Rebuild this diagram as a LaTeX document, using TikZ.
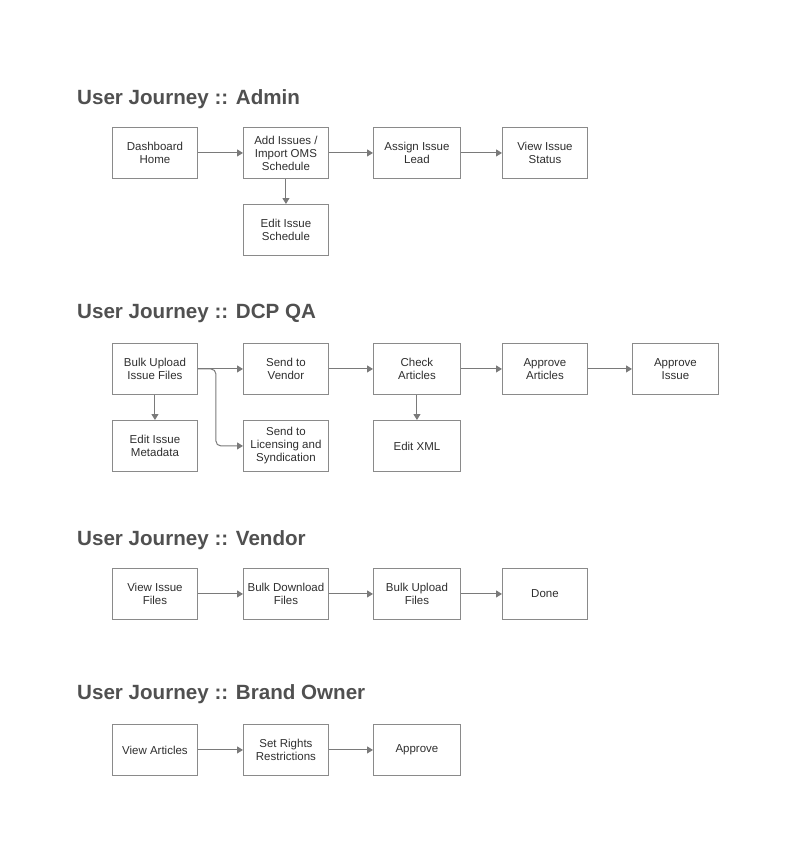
\documentclass[tikz,border=0pt]{standalone}
\usepackage{fontspec}
\setmainfont{Liberation Sans}
\usetikzlibrary{arrows.meta}
\definecolor{boxline}{HTML}{8A8A8A}
\definecolor{txt}{HTML}{2E2E2E}
\definecolor{arr}{HTML}{7A7A7A}
\definecolor{ttl}{HTML}{505050}
\tikzset{
  stepbox/.style={draw=boxline, line width=0.9pt, minimum width=85pt, minimum height=51pt,
    align=center, font=\fontsize{11.5}{13}\selectfont, text=txt, inner sep=0pt, anchor=north west},
  flow/.style={draw=arr, line width=1pt, -{Triangle[length=6pt,width=7pt]}},
  ttlstyle/.style={font=\fontsize{20.6}{24}\selectfont\bfseries, text=ttl, anchor=base west, inner sep=0pt}
}
\begin{document}
\begin{tikzpicture}[x=1pt,y=-1pt]
\useasboundingbox (0,0) rectangle (800,854);
% Admin
\node[ttlstyle] (t1) at (77,104) {User Journey :: Admin};
\node[stepbox] (a1) at (112,127) {Dashboard\\Home};
\node[stepbox] (a2) at (243,127) {Add Issues /\\Import OMS\\Schedule};
\node[stepbox, minimum width=87pt] (a3) at (373,127) {Assign Issue\\Lead};
\node[stepbox] (a4) at (502,127) {View Issue\\Status};
\node[stepbox] (a5) at (243,204) {Edit Issue\\Schedule};
\draw[flow] (a1) -- (a2);
\draw[flow] (a2) -- (a3);
\draw[flow] (a3) -- (a4);
\draw[flow] (a2) -- (a5);
% DCP QA
\node[ttlstyle] (t2) at (77,318) {User Journey :: DCP QA};
\node[stepbox] (d1) at (112,343) {Bulk Upload\\Issue Files};
\node[stepbox] (d2) at (243,343) {Send to\\Vendor};
\node[stepbox, minimum width=87pt] (d3) at (373,343) {Check\\Articles};
\node[stepbox] (d4) at (502,343) {Approve\\Articles};
\node[stepbox, minimum width=86pt] (d5) at (632,343) {Approve\\Issue};
\node[stepbox] (d6) at (112,420) {Edit Issue\\Metadata};
\node[stepbox] (d7) at (243,420) {Send to\\Licensing and\\Syndication};
\node[stepbox, minimum width=87pt] (d8) at (373,420) {Edit XML};
\draw[flow] (d1) -- (d2);
\draw[flow] (d2) -- (d3);
\draw[flow] (d3) -- (d4);
\draw[flow] (d4) -- (d5);
\draw[flow] (d1) -- (d6);
\draw[flow] (d3) -- (d8);
\draw[flow, rounded corners=5pt] (d1.east) -- ++(18,0) |- (d7.west);
% Vendor
\node[ttlstyle] (t3) at (77,545) {User Journey :: Vendor};
\node[stepbox] (v1) at (112,568) {View Issue\\Files};
\node[stepbox] (v2) at (243,568) {Bulk Download\\Files};
\node[stepbox, minimum width=87pt] (v3) at (373,568) {Bulk Upload\\Files};
\node[stepbox] (v4) at (502,568) {Done};
\draw[flow] (v1) -- (v2);
\draw[flow] (v2) -- (v3);
\draw[flow] (v3) -- (v4);
% Brand Owner
\node[ttlstyle] (t4) at (77,699) {User Journey :: Brand Owner};
\node[stepbox] (b1) at (112,724) {View Articles};
\node[stepbox] (b2) at (243,724) {Set Rights\\Restrictions};
\node[stepbox, minimum width=87pt] (b3) at (373,724) {Approve};
\draw[flow] (b1) -- (b2);
\draw[flow] (b2) -- (b3);
\end{tikzpicture}
\end{document}
